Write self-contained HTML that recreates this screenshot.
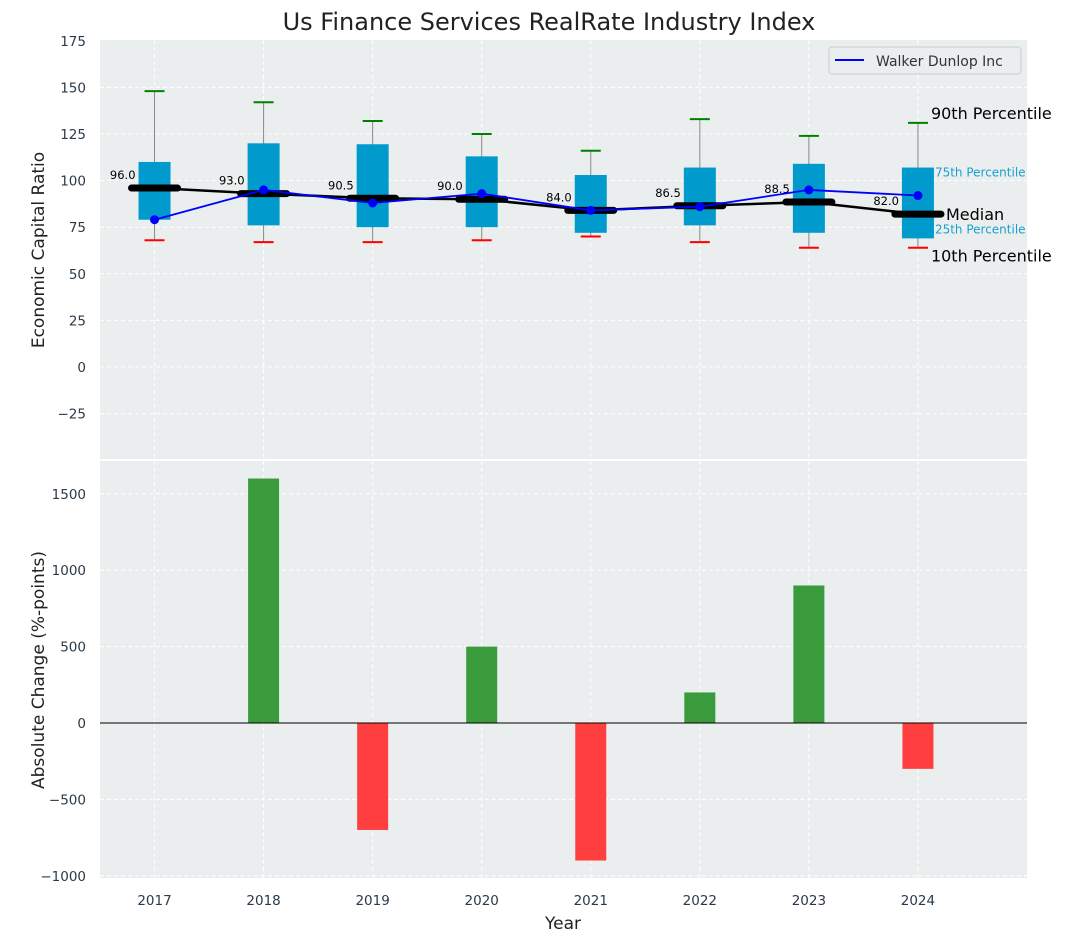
<!DOCTYPE html>
<html><head><meta charset="utf-8"><style>
body{margin:0;background:#fff;font-family:"Liberation Sans","DejaVu Sans",sans-serif}
svg text{font-family:"DejaVu Sans","Liberation Sans",sans-serif}
</style></head><body>
<svg id="c" width="1067" height="942" xmlns="http://www.w3.org/2000/svg"></svg>
<script>
const years=[2017,2018,2019,2020,2021,2022,2023,2024];
const p10=[68,67,67,68,70,67,64,64];
const p25=[79,76,75,75,72,76,72,69];
const med=[96,93,90.5,90,84,86.5,88.5,82];
const p75=[110,120,119.5,113,103,107,109,107];
const p90=[148,142,132,125,116,133,124,131];
const company=[79,95,88,93,84,86,95,92];
const changes=[0,1600,-700,500,-900,200,900,-300];
const topTicks=[-25,0,25,50,75,100,125,150,175];
const botTicks=[-1000,-500,0,500,1000,1500];

const NS="http://www.w3.org/2000/svg";
const svg=document.getElementById('c');
function el(t,a,p){const e=document.createElementNS(NS,t);for(const k in a)e.setAttribute(k,a[k]);(p||svg).appendChild(e);return e;}
function tx(s,a){const e=el('text',a);e.textContent=s;return e;}
const L=100,R=1027;
const X=v=>L+(v-2016.5)/(2025-2016.5)*(R-L);
const T0=40,T1=459,Y1=v=>367-v/25*46.6;
const B0=461,B1=878,Y2=v=>723-v/500*76.4;

let r=el('rect',{x:L,y:T0,width:R-L,height:T1-T0,fill:'#eaeeee'});

r=el('rect',{x:L,y:B0,width:R-L,height:B1-B0,fill:'#eaeeee'});


topTicks.forEach(v=>{if(v>-50&&v<175)el('line',{x1:L,x2:R,y1:Y1(v),y2:Y1(v),stroke:'#fff','stroke-dasharray':'4,3'});});
botTicks.forEach(v=>el('line',{x1:L,x2:R,y1:Y2(v),y2:Y2(v),stroke:'#fff','stroke-dasharray':'4,3'}));
years.forEach(y=>{el('line',{x1:X(y),x2:X(y),y1:T0,y2:T1,stroke:'#fff','stroke-dasharray':'4,3'});el('line',{x1:X(y),x2:X(y),y1:B0,y2:B1,stroke:'#fff','stroke-dasharray':'4,3'});});

topTicks.forEach(v=>{const t=tx(v<0?'\u2212'+(-v):String(v),{x:86,y:Y1(v)+5,'text-anchor':'end','font-size':13.5,fill:'#2b3a4a'});});
botTicks.forEach(v=>{const t=tx(v<0?'\u2212'+(-v):String(v),{x:86,y:Y2(v)+5,'text-anchor':'end','font-size':13.5,fill:'#2b3a4a'});});
years.forEach(y=>{const t=tx(String(y),{x:X(y),y:905,'text-anchor':'middle','font-size':13.5,fill:'#2b3a4a'});});

years.forEach((y,i)=>{
  const x=X(y);
  el('line',{x1:x,x2:x,y1:Y1(p90[i]),y2:Y1(p10[i]),stroke:'#888','stroke-width':1});
  const b=el('rect',{x:x-16,y:Y1(p75[i]),width:32,height:Y1(p25[i])-Y1(p75[i]),fill:'#009acd'});
  
  el('line',{x1:x-10,x2:x+10,y1:Y1(p90[i]),y2:Y1(p90[i]),stroke:'green','stroke-width':2});
  el('line',{x1:x-10,x2:x+10,y1:Y1(p10[i]),y2:Y1(p10[i]),stroke:'red','stroke-width':2});
  el('line',{x1:x-23,x2:x+23,y1:Y1(med[i]),y2:Y1(med[i]),stroke:'#000','stroke-width':7,'stroke-linecap':'round'});
  tx(med[i].toFixed(1),{x:x-19,y:Y1(med[i])-9,'text-anchor':'end','font-size':11.5,fill:'#000'});
});
el('polyline',{points:years.map((y,i)=>X(y)+','+Y1(med[i])).join(' '),fill:'none',stroke:'#000','stroke-width':2.5});
const cl=el('polyline',{points:years.map((y,i)=>X(y)+','+Y1(company[i])).join(' '),fill:'none',stroke:'#0000ff','stroke-width':1.8});

years.forEach((y,i)=>el('circle',{cx:X(y),cy:Y1(company[i]),r:4.5,fill:'#0000ff'}));

const xl=X(2024);
tx('90th Percentile',{x:xl+13,y:Y1(p90[7])-4,'font-size':16,fill:'#000'});
tx('75th Percentile',{x:xl+17,y:Y1(p75[7])+9,'font-size':12,fill:'#1aa0d0'});
tx('Median',{x:xl+28,y:Y1(med[7])+6,'font-size':16,fill:'#000'});
tx('25th Percentile',{x:xl+17,y:Y1(p25[7])-5,'font-size':12,fill:'#1aa0d0'});
tx('10th Percentile',{x:xl+13,y:Y1(p10[7])+14,'font-size':16,fill:'#000'});

const lg=el('rect',{x:829,y:47,width:192,height:27,rx:3,fill:'#eaeeee',stroke:'#ccc'});

el('line',{x1:835,x2:864,y1:60,y2:60,stroke:'#0000ff','stroke-width':2});
tx('Walker Dunlop Inc',{x:876,y:66,'font-size':14,fill:'#333'});

years.forEach((y,i)=>{
  const v=changes[i];if(v===0)return;
  const b=el('rect',{x:X(y)-15.5,y:Math.min(Y2(v),Y2(0)),width:31,height:Math.abs(Y2(v)-Y2(0)),fill:v>0?'#3a9b3d':'#ff3f3f'});
  
});
el('line',{x1:L,x2:R,y1:Y2(0),y2:Y2(0),stroke:'#000','stroke-width':1});

tx('Us Finance Services RealRate Industry Index',{x:549,y:30,'text-anchor':'middle','font-size':24,fill:'#222'});
tx('Economic Capital Ratio',{x:44,y:250,'text-anchor':'middle','font-size':17,fill:'#222',transform:'rotate(-90 44 250)'});
tx('Absolute Change (%-points)',{x:44,y:670,'text-anchor':'middle','font-size':17,fill:'#222',transform:'rotate(-90 44 670)'});
tx('Year',{x:563,y:929,'text-anchor':'middle','font-size':17,fill:'#222'});
</script>
</body></html>
